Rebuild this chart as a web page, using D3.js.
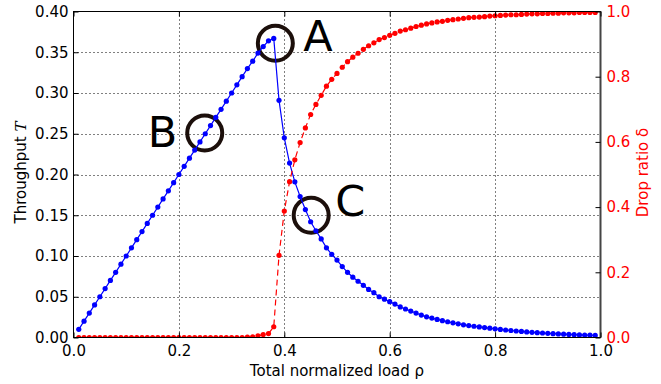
<!DOCTYPE html>
<html>
<head>
<meta charset="utf-8">
<script src="https://cdn.jsdelivr.net/npm/d3@7"></script>
<style>
html,body{margin:0;padding:0;background:#fff;}
svg{display:block;font-family:"DejaVu Sans",sans-serif;}
</style>
</head>
<body>
<svg id="chart" width="661" height="384"></svg>
<script>
// ---------- data ----------
const load = [0.01,0.02,0.03,0.04,0.05,0.06,0.07,0.08,0.09,0.10,
  0.11,0.12,0.13,0.14,0.15,0.16,0.17,0.18,0.19,0.20,
  0.21,0.22,0.23,0.24,0.25,0.26,0.27,0.28,0.29,0.30,
  0.31,0.32,0.33,0.34,0.35,0.36,0.37,0.38,0.39,0.40,
  0.41,0.42,0.43,0.44,0.45,0.46,0.47,0.48,0.49,0.50,
  0.51,0.52,0.53,0.54,0.55,0.56,0.57,0.58,0.59,0.60,
  0.61,0.62,0.63,0.64,0.65,0.66,0.67,0.68,0.69,0.70,
  0.71,0.72,0.73,0.74,0.75,0.76,0.77,0.78,0.79,0.80,
  0.81,0.82,0.83,0.84,0.85,0.86,0.87,0.88,0.89,0.90,
  0.91,0.92,0.93,0.94,0.95,0.96,0.97,0.98,0.99];
const throughput = [0.01,0.02,0.03,0.04,0.05,0.06,0.07,0.08,0.09,0.10,
  0.11,0.12,0.13,0.14,0.15,0.16,0.17,0.18,0.19,0.20,
  0.21,0.22,0.23,0.24,0.25,0.26,0.27,0.28,0.29,0.30,
  0.31,0.32,0.33,0.339,0.349,0.357,0.364,0.367,0.291,0.245,
  0.214,0.191,0.173,0.157,0.142,0.131,0.121,0.110,0.102,0.095,
  0.087,0.080,0.074,0.069,0.064,0.059,0.055,0.050,0.047,0.044,
  0.041,0.0375,0.035,0.0324,0.030,0.0275,0.0254,0.0238,0.0222,0.0207,
  0.0193,0.0180,0.0168,0.0156,0.0146,0.0138,0.0130,0.0122,0.0114,0.0106,
  0.0099,0.0092,0.0086,0.0080,0.0074,0.0069,0.0064,0.0059,0.0055,0.0051,
  0.0047,0.0044,0.0041,0.0038,0.0035,0.0032,0.0030,0.0028,0.0026];
const dropRatio = [0,0,0,0,0,0,0,0,0,0,
  0,0,0,0,0,0,0,0,0,0,
  0,0,0,0,0,0,0,0,0,0,
  0,0,0.001,0.002,0.005,0.009,0.012,0.033,0.252,0.388,
  0.478,0.545,0.598,0.643,0.684,0.715,0.743,0.771,0.792,0.810,
  0.829,0.846,0.860,0.872,0.884,0.895,0.904,0.914,0.920,0.927,
  0.933,0.940,0.944,0.949,0.954,0.958,0.962,0.965,0.968,0.970,
  0.973,0.975,0.977,0.979,0.981,0.982,0.983,0.984,0.986,0.987,
  0.988,0.989,0.990,0.990,0.991,0.992,0.993,0.993,0.994,0.994,
  0.995,0.995,0.996,0.996,0.996,0.997,0.997,0.997,0.997];
const xTicks = [0.0,0.2,0.4,0.6,0.8,1.0];
const yLeftTicks = [0.00,0.05,0.10,0.15,0.20,0.25,0.30,0.35,0.40];
const yRightTicks = [0.0,0.2,0.4,0.6,0.8,1.0];
const markLabels = ["A","B","C"];
const markLoad = [0.383,0.249,0.451];
const markValue = [0.361,0.251,0.150];

// ---------- layout ----------
const L = 73.5, R = 600.5, T = 11.5, B = 337.5;
const svg = d3.select("#chart");
const x = d3.scaleLinear().domain([0,1]).range([L,R]);
const yL = d3.scaleLinear().domain([0,0.4]).range([B,T]);
const yR = d3.scaleLinear().domain([0,1]).range([B,T]);

svg.append("defs").append("clipPath").attr("id","clip")
  .append("rect").attr("x",L).attr("y",T).attr("width",R-L).attr("height",B-T);

// grid
const grid = svg.append("g").attr("stroke","#000").attr("stroke-width",1)
  .attr("stroke-dasharray","1,3");
xTicks.slice(1,-1).forEach(v=>{
  grid.append("line").attr("x1",Math.round(x(v))+0.5).attr("x2",Math.round(x(v))+0.5)
    .attr("y1",T).attr("y2",B);
});
yLeftTicks.slice(1,-1).forEach(v=>{
  grid.append("line").attr("y1",Math.round(yL(v))+0.5).attr("y2",Math.round(yL(v))+0.5)
    .attr("x1",L).attr("x2",R);
});

// circles (under lines)
const circ = svg.append("g");
markLabels.forEach((m,i)=>{
  circ.append("circle").attr("cx",x(markLoad[i])).attr("cy",yL(markValue[i]))
    .attr("r",17.5).attr("fill","none").attr("stroke","#1c0f0b").attr("stroke-width",4);
});

const plot = svg.append("g").attr("clip-path","url(#clip)");
// blue throughput
plot.append("path").datum(load.map((d,i)=>[d,throughput[i]]))
  .attr("d",d3.line().x(d=>x(d[0])).y(d=>yL(d[1])))
  .attr("fill","none").attr("stroke","#0000ff").attr("stroke-width",1.2);
plot.append("g").selectAll("circle").data(load.map((d,i)=>[d,throughput[i]])).join("circle")
  .attr("cx",d=>x(d[0])).attr("cy",d=>yL(d[1])).attr("r",2.6).attr("fill","#0000ff");

// red drop ratio
plot.append("path").datum(load.map((d,i)=>[d,dropRatio[i]]))
  .attr("d",d3.line().x(d=>x(d[0])).y(d=>yR(d[1])))
  .attr("fill","none").attr("stroke","#ff0000").attr("stroke-width",1.2)
  .attr("stroke-dasharray","6,4");
plot.append("g").selectAll("circle").data(load.map((d,i)=>[d,dropRatio[i]])).join("circle")
  .attr("cx",d=>x(d[0])).attr("cy",d=>yR(d[1])).attr("r",2.6).attr("fill","#ff0000");

// letters
const letterDX = [28, -57, 24];
const letterDY = [8, 14, 1];
markLabels.forEach((m,i)=>{
  svg.append("text").attr("x",x(markLoad[i])+letterDX[i]).attr("y",yL(markValue[i])+letterDY[i])
    .attr("font-size",43).attr("fill","#000").text(m);
});

// axes frame
svg.append("rect").attr("x",L).attr("y",T).attr("width",R-L).attr("height",B-T)
  .attr("fill","none").attr("stroke","#000").attr("stroke-width",1);
svg.append("line").attr("x1",R).attr("x2",R).attr("y1",T).attr("y2",B)
  .attr("stroke","#444").attr("stroke-width",2);

const fs = 15;
// x axis ticks & labels
const axX = d3.axisBottom(x).tickValues(xTicks).tickFormat(d3.format(".1f")).tickSizeInner(-5).tickSizeOuter(0).tickPadding(7.5);
const gx = svg.append("g").attr("transform",`translate(0,${B})`).call(axX);
gx.select(".domain").remove();
gx.selectAll("text").attr("font-size",fs).attr("font-family","DejaVu Sans").attr("fill","#000");
const axXt = d3.axisTop(x).tickValues(xTicks).tickFormat("").tickSizeInner(-5).tickSizeOuter(0);
const gxt = svg.append("g").attr("transform",`translate(0,${T})`).call(axXt);
gxt.select(".domain").remove();

// left axis
const axL = d3.axisLeft(yL).tickValues(yLeftTicks).tickFormat(d3.format(".2f")).tickSizeInner(-5).tickSizeOuter(0).tickPadding(5);
const gl = svg.append("g").attr("transform",`translate(${L},0)`).call(axL);
gl.select(".domain").remove();
gl.selectAll("text").attr("font-size",fs).attr("font-family","DejaVu Sans").attr("fill","#000");

// right axis
const axR = d3.axisRight(yR).tickValues(yRightTicks).tickFormat(d3.format(".1f")).tickSizeInner(-5).tickSizeOuter(0).tickPadding(6);
const gr = svg.append("g").attr("transform",`translate(${R},0)`).call(axR);
gr.select(".domain").remove();
gr.selectAll("text").attr("font-size",fs).attr("font-family","DejaVu Sans").attr("fill","#ff0000");
gr.selectAll("line").attr("stroke","#000");

// axis labels
svg.append("text").attr("x",(L+R)/2).attr("y",376).attr("text-anchor","middle")
  .attr("font-size",fs).text("Total normalized load ρ");
const yl = svg.append("text").attr("transform",`translate(26,${(T+B)/2 - 2}) rotate(-90)`)
  .attr("text-anchor","middle").attr("font-size",fs);
yl.append("tspan").text("Throughput ");
yl.append("tspan").attr("font-family","DejaVu Serif").attr("font-style","italic").text("T");
svg.append("text").attr("transform",`translate(648,${(T+B)/2 - 2}) rotate(-90)`)
  .attr("text-anchor","middle").attr("font-size",fs).attr("fill","#ff0000").text("Drop ratio δ");
</script>
</body>
</html>
